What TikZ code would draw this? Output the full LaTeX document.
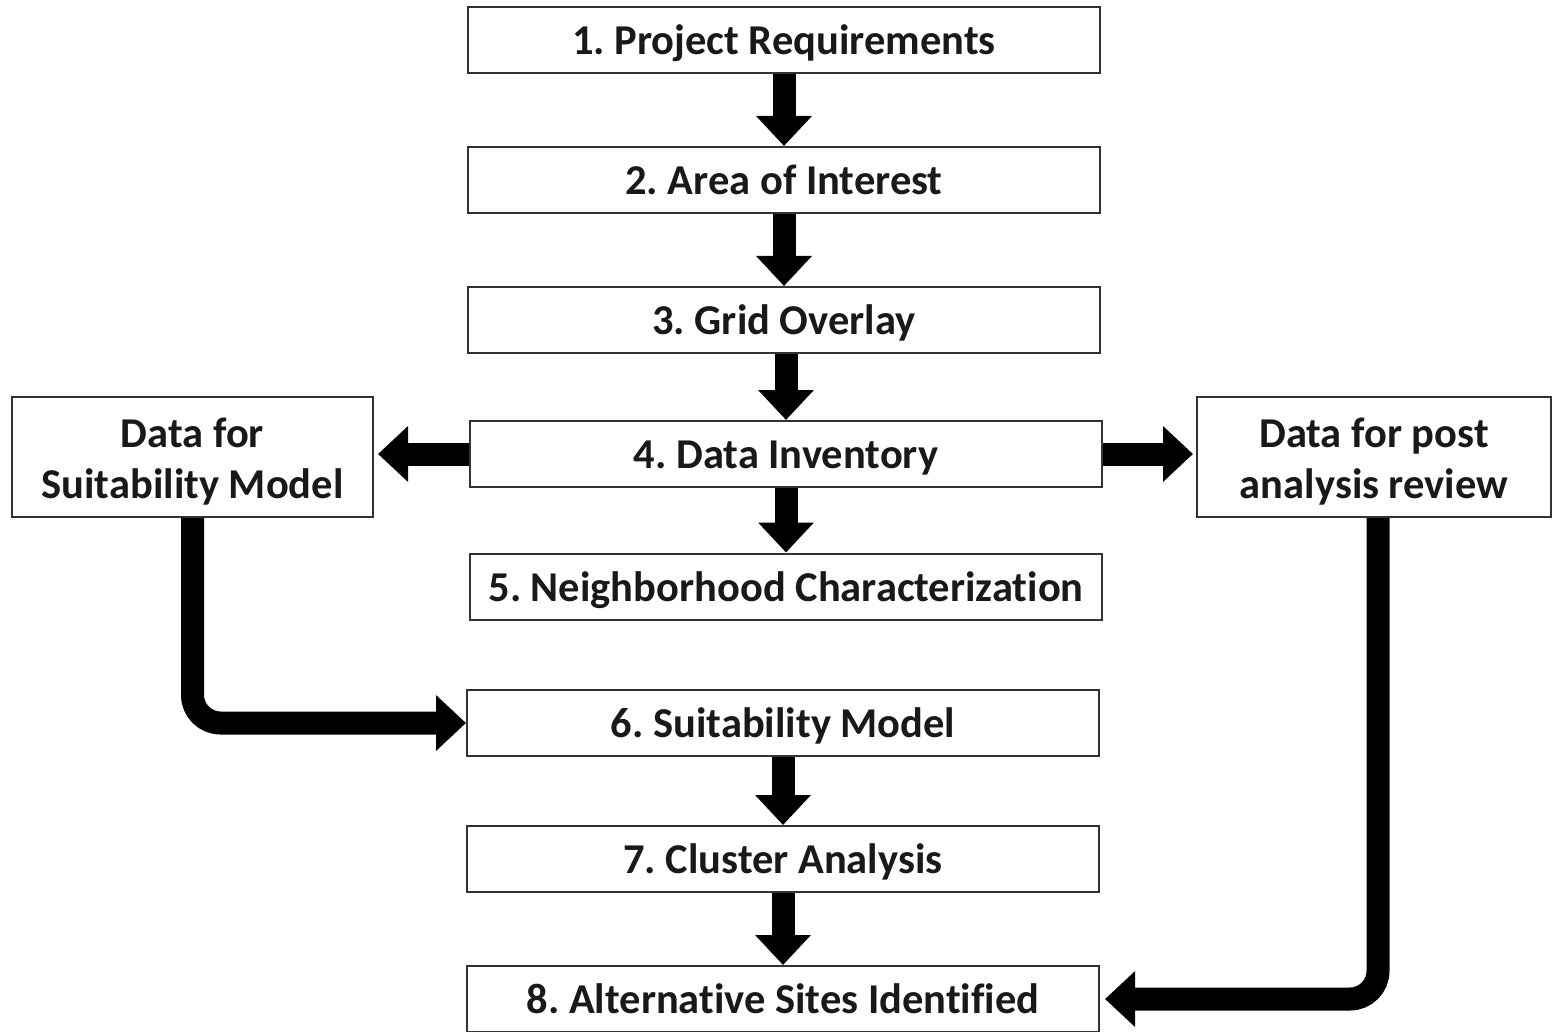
\documentclass[tikz,border=0pt]{standalone}
\usepackage{fontspec}
\setmainfont[Ligatures={NoCommon}]{Carlito}
\usetikzlibrary{arrows.meta,calc}
\newcommand{\firstlift}{\rule{0pt}{38pt}}
\begin{document}
\frenchspacing
\begin{tikzpicture}[x=1pt,y=-1pt,
  box/.style={draw=black!80, line width=2pt, fill=white, minimum width=632pt, minimum height=66pt,
    inner sep=0pt, text height=32pt, text depth=3pt, font=\fontsize{42.5}{52}\selectfont\bfseries, text=black!90},
  sidebox/.style={draw=black!80, line width=2pt, fill=white, minimum height=120pt,
    inner sep=0pt, align=center, font=\fontsize{42.5}{51}\selectfont\bfseries, text=black!90},
  bigarrow/.style={line width=23pt, -{Triangle[length=30pt,width=54pt]}, draw=black}]
\useasboundingbox (0,0) rectangle (1552,1032);
\node[box] (b1) at (784,40.5) {1. Project Requirements};
\node[box] (b2) at (784,180) {2. Area of Interest};
\node[box] (b3) at (784,320) {3. Grid Overlay};
\node[box] (b4) at (786,454) {4. Data Inventory};
\node[box] (b5) at (786,586.5) {5. Neighborhood Characterization};
\node[box] (b6) at (783,723) {6. Suitability Model};
\node[box] (b7) at (783,859) {7. Cluster Analysis};
\node[box] (b8) at (783,999) {8. Alternative Sites Identified};
\node[sidebox, minimum width=361pt] (L) at (192.5,457) {\firstlift Data for\\Suitability Model};
\node[sidebox, minimum width=354pt] (R) at (1374,457) {\firstlift Data for post\\analysis review};
\draw[bigarrow] (b1.south) -- (b2.north);
\draw[bigarrow] (b2.south) -- (b3.north);
\draw[bigarrow] ([xshift=2pt]b3.south) -- ([xshift=2pt]b3.south |- b4.north);
\draw[bigarrow] (b4.south) -- (b5.north);
\draw[bigarrow] (b6.south) -- (b7.north);
\draw[bigarrow] (b7.south) -- (b8.north);
\draw[bigarrow, shorten >=4pt] (b4.west) -- (b4.west -| L.east);
\draw[bigarrow, shorten >=3pt] (b4.east) -- (b4.east -| R.west);
\draw[bigarrow, rounded corners=28pt] (L.south) -- (L.south |- b6.west) -- (b6.west);
\draw[bigarrow, rounded corners=28pt, shorten >=5pt] ([xshift=4pt]R.south) -- ([xshift=4pt]R.south |- b8.east) -- (b8.east);
\end{tikzpicture}
\end{document}
